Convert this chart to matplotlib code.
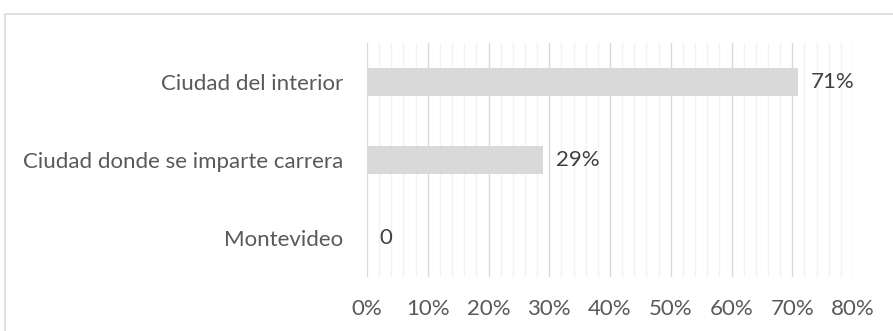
import numpy as np
import matplotlib.pyplot as plt
from matplotlib.patches import Rectangle
from matplotlib.ticker import MultipleLocator, PercentFormatter

categories = ['Montevideo', 'Ciudad donde se imparte carrera', 'Ciudad del interior']
shares = [0, 29, 71]
value_labels = ['0', '29%', '71%']
x_ticks = [0, 10, 20, 30, 40, 50, 60, 70, 80]

text_color = '#595959'
plt.rcParams['font.family'] = ['Lato', 'DejaVu Sans']

fig = plt.figure(figsize=(8.93, 3.31), dpi=100)
ax = fig.add_axes([367 / 893, 1 - 277 / 331, (853 - 367) / 893, (277 - 43) / 331])

# chart frame
fig.patches.append(Rectangle((4.5 / 893, -0.1), 1.2, 1 - 13.5 / 331 + 0.1,
                             transform=fig.transFigure, fill=False,
                             edgecolor='#d9d9d9', linewidth=1.2))

ind = np.arange(len(categories))
ax.barh(ind, shares, height=0.35, color='#d9d9d9', zorder=3)

for i, v in enumerate(shares):
    ax.annotate(value_labels[i], (v, i), xytext=(9, 0), textcoords='offset points',
                va='center', ha='left', fontsize=16, color='#404040')

ax.set_xlim(0, 80)
ax.set_ylim(-0.5, len(categories) - 0.5)
ax.set_xticks(x_ticks)
ax.xaxis.set_major_formatter(PercentFormatter(decimals=0))
ax.xaxis.set_minor_locator(MultipleLocator(2))
ax.set_yticks(ind)
ax.set_yticklabels(categories)

ax.grid(axis='x', which='major', color='#d9d9d9', linewidth=1.0, zorder=0)
ax.grid(axis='x', which='minor', color='#f2f2f2', linewidth=1.0, zorder=0)
ax.tick_params(axis='both', which='both', length=0, labelsize=16, colors=text_color)
ax.tick_params(axis='x', pad=16)
ax.tick_params(axis='y', pad=17)
for s in ax.spines.values():
    s.set_visible(False)

fig.savefig('out.png', dpi=100)
